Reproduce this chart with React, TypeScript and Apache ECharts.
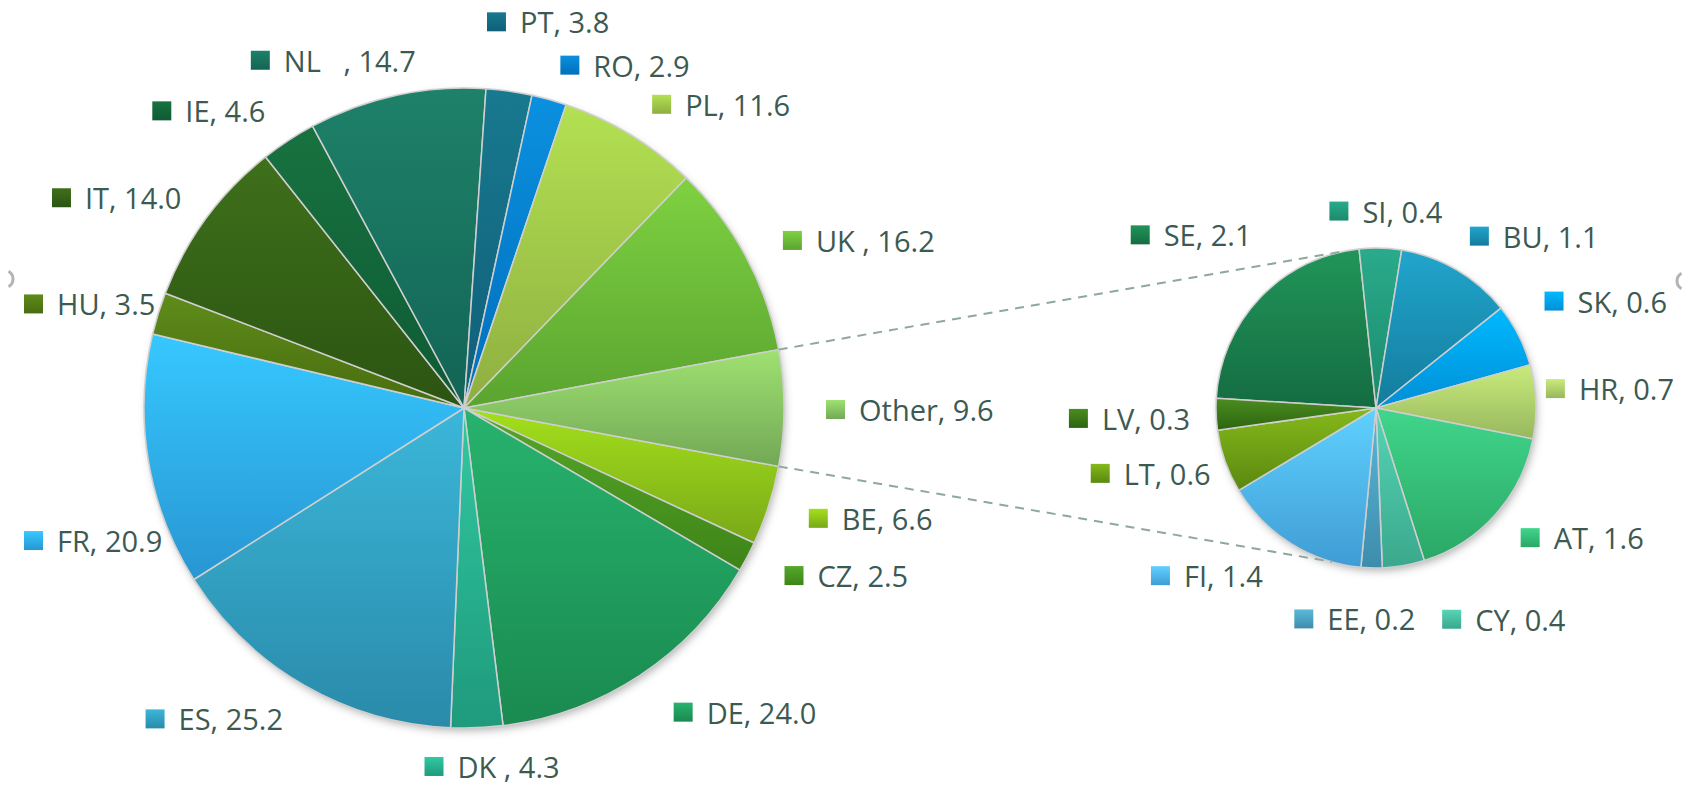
import React, { useEffect, useRef } from 'react';
import * as echarts from 'echarts';

// ---------- data ----------
const mainNames = ['BE', 'CZ', 'DE', 'DK ', 'ES', 'FR', 'HU', 'IT', 'IE', 'NL   ', 'PT', 'RO', 'PL', 'UK ', 'Other'];
const mainValues = [6.6, 2.5, 24.0, 4.3, 25.2, 20.9, 3.5, 14.0, 4.6, 14.7, 3.8, 2.9, 11.6, 16.2, 9.6];
const mainColors: [string, string][] = [
  ['#a4e01c', '#78a818'],
  ['#56a82a', '#3e8418'],
  ['#27b36d', '#1a8a50'],
  ['#31c9a1', '#1f9a7c'],
  ['#3bb7d9', '#2a8aaa'],
  ['#36c8ff', '#2896d2'],
  ['#5f8c1a', '#486c10'],
  ['#3f701a', '#2b5412'],
  ['#187240', '#0e5a34'],
  ['#1e8169', '#136455'],
  ['#18798f', '#0f5f78'],
  ['#0b90e0', '#006fba'],
  ['#b3e152', '#8eae40'],
  ['#7fd141', '#5aa430'],
  ['#9fe171', '#72a856'],
];

const otherNames = ['SE', 'SI', 'BU', 'SK', 'HR', 'AT', 'CY', 'EE', 'FI', 'LT', 'LV'];
const otherValues = [2.1, 0.4, 1.1, 0.6, 0.7, 1.6, 0.4, 0.2, 1.4, 0.6, 0.3];
const otherColors: [string, string][] = [
  ['#219559', '#146c42'],
  ['#29ab8b', '#1b8a6c'],
  ['#21a5cd', '#137c9c'],
  ['#00b9ff', '#008fd6'],
  ['#c9eb7b', '#97b75e'],
  ['#41d58b', '#2aa866'],
  ['#57d5b5', '#3aa88c'],
  ['#5bb9d9', '#3e8cac'],
  ['#5fd1ff', '#409cd4'],
  ['#85b91b', '#5a8810'],
  ['#4b8d1f', '#2c6410'],
];

// ---------- layout constants ----------
const W = 1689;
const H = 794;
const MAIN_C = [464, 408];
const MAIN_R = 320;
const SMALL_C = [1376, 408];
const SMALL_R = 160;
const SMALL_START = 176.5;
const CONNECT_ANGLES = [101.6, -106]; // degrees on the second pie (math convention)
const TEXT_COLOR = '#3d5a52';
const FONT = "'Open Sans', 'Noto Sans', sans-serif";
const EDGE_L = 24;
const EDGE_R = 8;

// manual label nudges (like labels dragged in the original), in px
const MAIN_NUDGE: Record<string, [number, number]> = {
  PT: [-10, -34],
  NL: [28, 0],
  IT: [9, 0],
  DE: [11, 4],
  FR: [0, 10],
};
const SMALL_NUDGE: Record<string, [number, number]> = {
  SE: [10, -33],
  SK: [3, -10],
  HR: [-7, -12],
  AT: [6, -9],
  CY: [64, 14],
  EE: [-11, 11],
  FI: [-14, -4],
  LT: [10, -12],
};

const grad = (c: [string, string]) =>
  new echarts.graphic.LinearGradient(0, 0, 0, 1, [
    { offset: 0, color: c[0] },
    { offset: 1, color: c[1] },
  ]);

function buildData(names: string[], values: number[], colors: [string, string][]) {
  return names.map((n, i) => ({
    name: n,
    value: values[i],
    itemStyle: { color: grad(colors[i]) },
    label: {
      rich: {
        sq: { width: 19, height: 19, backgroundColor: grad(colors[i]), verticalAlign: 'middle' },
        t: {
          fontSize: 29,
          lineHeight: 32,
          color: TEXT_COLOR,
          fontFamily: FONT,
          padding: [0, 0, 0, 14],
          verticalAlign: 'middle',
        },
      },
    },
  }));
}

function midAngles(values: number[], startDeg: number) {
  const sum = values.reduce((a, b) => a + b, 0);
  let cum = 0;
  return values.map((v) => {
    const a = ((-startDeg + ((cum + v / 2) / sum) * 360) * Math.PI) / 180; // screen angle
    cum += v;
    return a;
  });
}

const clamp1 = (v: number) => Math.max(-1, Math.min(1, v));

function makeLayout(
  names: string[],
  values: number[],
  startDeg: number,
  c: number[],
  R: number,
  o: { gx: number; gy: number; kx: number; ky: number; nudge: Record<string, [number, number]> }
) {
  const mids = midAngles(values, startDeg);
  return (params: any) => {
    const i = params.dataIndex;
    const a = mids[i];
    const w = params.labelRect.width;
    const h = params.labelRect.height;
    const cs = Math.cos(a);
    const sn = Math.sin(a);
    const px = c[0] + (R + o.gx) * cs;
    const py = c[1] + (R + o.gy) * sn;
    const fx = clamp1(cs * o.kx);
    const fy = clamp1(sn * o.ky);
    let x = px - (w * (1 - fx)) / 2;
    let y = py - (h * (1 - fy)) / 2;
    let clamped = false;
    if (x < EDGE_L) {
      x = EDGE_L;
      clamped = true;
    }
    if (x + w > W - EDGE_R) {
      x = W - EDGE_R - w;
      clamped = true;
    }
    if (clamped) {
      const nearX = cs < 0 ? x + w : x;
      const dx = Math.abs(nearX - c[0]);
      if (dx < R) {
        const need = Math.sqrt(R * R - dx * dx);
        if (sn >= 0) {
          if (y - c[1] < need) y = c[1] + need;
        } else if (c[1] - (y + h) < need) {
          y = c[1] - need - h;
        }
      }
    }
    const n = o.nudge[names[i].trim()];
    if (n) {
      x += n[0];
      y += n[1];
    }
    return { x, y, align: 'left', verticalAlign: 'top' };
  };
}

export default function App() {
  const ref = useRef<HTMLDivElement>(null);

  useEffect(() => {
    if (!ref.current) return;
    const chart = echarts.init(ref.current, undefined, { renderer: 'svg', width: W, height: H });

    const mainSum = mainValues.reduce((a, b) => a + b, 0);
    const otherIdx = mainValues.length - 1;
    const mainStart = -((mainValues[otherIdx] / 2) / mainSum) * 360;
    const halfOther = ((mainValues[otherIdx] / 2) / mainSum) * 2 * Math.PI;

    const p1 = [MAIN_C[0] + MAIN_R * Math.cos(halfOther), MAIN_C[1] - MAIN_R * Math.sin(halfOther)];
    const p2 = [MAIN_C[0] + MAIN_R * Math.cos(halfOther), MAIN_C[1] + MAIN_R * Math.sin(halfOther)];
    const q1 = [
      SMALL_C[0] + SMALL_R * Math.cos((CONNECT_ANGLES[0] * Math.PI) / 180),
      SMALL_C[1] - SMALL_R * Math.sin((CONNECT_ANGLES[0] * Math.PI) / 180),
    ];
    const q2 = [
      SMALL_C[0] + SMALL_R * Math.cos((CONNECT_ANGLES[1] * Math.PI) / 180),
      SMALL_C[1] - SMALL_R * Math.sin((CONNECT_ANGLES[1] * Math.PI) / 180),
    ];

    const commonLabel = {
      show: true,
      position: 'outside',
      formatter: (p: any) => `{sq|}{t|${p.name}, ${Number(p.value).toFixed(1)}}`,
    };

    const shadowStyle = {
      fill: '#ffffff',
      shadowBlur: 10,
      shadowColor: 'rgba(0,0,0,0.35)',
      shadowOffsetX: 2,
      shadowOffsetY: 4,
    };

    chart.setOption({
      animation: false,
      backgroundColor: '#ffffff',
      graphic: [
        { type: 'circle', z: 0, shape: { cx: MAIN_C[0], cy: MAIN_C[1], r: MAIN_R - 2 }, style: shadowStyle },
        { type: 'circle', z: 0, shape: { cx: SMALL_C[0], cy: SMALL_C[1], r: SMALL_R - 2 }, style: shadowStyle },
        {
          type: 'line',
          z: 10,
          shape: { x1: p1[0], y1: p1[1], x2: q1[0], y2: q1[1] },
          style: { stroke: '#8ea89e', lineWidth: 2, lineDash: [9, 7] },
        },
        {
          type: 'line',
          z: 10,
          shape: { x1: p2[0], y1: p2[1], x2: q2[0], y2: q2[1] },
          style: { stroke: '#8ea89e', lineWidth: 2, lineDash: [9, 7] },
        },
        {
          type: 'arc',
          z: 1,
          shape: { cx: 4, cy: 279, r: 9, startAngle: -Math.PI / 3, endAngle: Math.PI / 3 },
          style: { stroke: '#b4b4b4', lineWidth: 3, fill: 'none' },
        },
        {
          type: 'arc',
          z: 1,
          shape: { cx: 1686, cy: 281, r: 9, startAngle: (2 * Math.PI) / 3, endAngle: (4 * Math.PI) / 3 },
          style: { stroke: '#b4b4b4', lineWidth: 3, fill: 'none' },
        },
      ],
      series: [
        {
          type: 'pie',
          center: MAIN_C,
          radius: MAIN_R,
          startAngle: mainStart,
          clockwise: true,
          avoidLabelOverlap: false,
          silent: true,
          itemStyle: { borderColor: '#cfcfcf', borderWidth: 1.5 },
          label: commonLabel,
          labelLine: { show: false },
          labelLayout: makeLayout(mainNames, mainValues, mainStart, MAIN_C, MAIN_R, {
            gx: 42,
            gy: 30,
            kx: 5,
            ky: 0.5,
            nudge: MAIN_NUDGE,
          }),
          data: buildData(mainNames, mainValues, mainColors),
        },
        {
          type: 'pie',
          center: SMALL_C,
          radius: SMALL_R,
          startAngle: SMALL_START,
          clockwise: true,
          avoidLabelOverlap: false,
          silent: true,
          itemStyle: { borderColor: '#cfcfcf', borderWidth: 1.5 },
          label: commonLabel,
          labelLine: { show: false },
          labelLayout: makeLayout(otherNames, otherValues, SMALL_START, SMALL_C, SMALL_R, {
            gx: 26,
            gy: 24,
            kx: 3,
            ky: 3,
            nudge: SMALL_NUDGE,
          }),
          data: buildData(otherNames, otherValues, otherColors),
        },
      ],
    });

    return () => chart.dispose();
  }, []);

  return (
    <div
      ref={ref}
      style={{ position: 'fixed', left: 0, top: 0, width: W, height: H, background: '#fff' }}
    />
  );
}
